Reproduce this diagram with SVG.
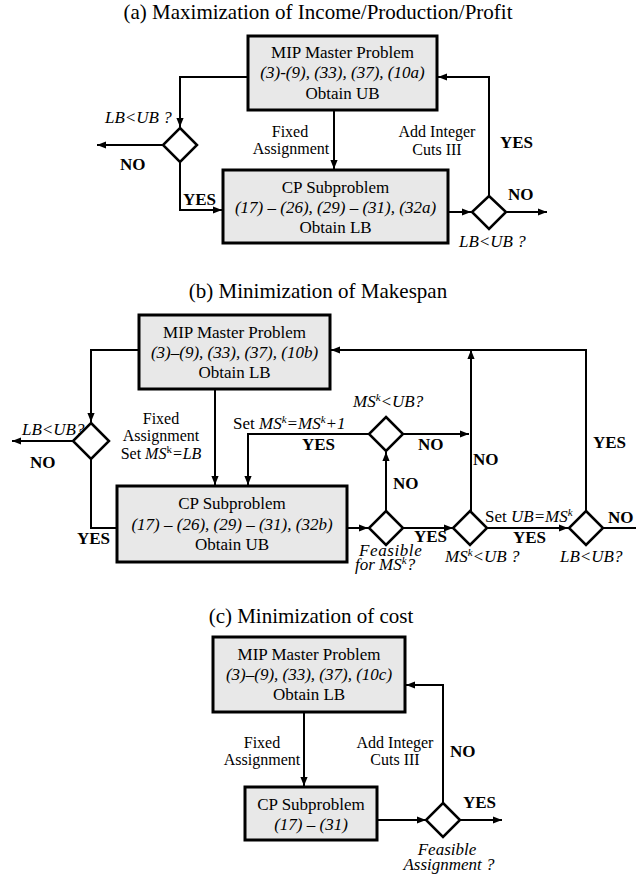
<svg xmlns="http://www.w3.org/2000/svg" width="636" height="875" viewBox="0 0 636 875">
  <style>
    text { font-family: "Liberation Serif", "Times New Roman", serif; fill: #000; }
    .title { font-size: 21px; text-anchor: middle; }
    .bt { font-size: 17px; text-anchor: middle; }
    .lb { font-size: 16px; text-anchor: middle; }
    .it { font-style: italic; font-size: 17px; }
    .yn { font-weight: bold; font-size: 17px; }
    .box { fill: #e8e8e8; stroke: #000; stroke-width: 3; }
    .dia { fill: #fff; stroke: #000; stroke-width: 2.5; }
    .ln { fill: none; stroke: #000; stroke-width: 2; }
    .arr { marker-end: url(#ah); }
    .sup { font-size: 11px; }
  </style>
  <defs>
    <marker id="ah" viewBox="0 0 10 10" refX="10" refY="5" markerWidth="9" markerHeight="9" orient="auto" markerUnits="userSpaceOnUse">
      <path d="M0,1 L10,5 L0,9 z" fill="#000"/>
    </marker>
  </defs>

  <!-- (a) Maximization -->
  <text class="title" x="318" y="19">(a) Maximization of Income/Production/Profit</text>

  <g id="connectors-a">
    <path class="ln arr" d="M248,77 H180 V127"/>
    <path class="ln arr" d="M162,145 H97"/>
    <path class="ln arr" d="M180,162 V210 H222"/>
    <path class="ln arr" d="M334,110 V169"/>
    <path class="ln arr" d="M448,212 H471"/>
    <path class="ln arr" d="M489,196 V77 H438"/>
    <path class="ln arr" d="M507,212 H547"/>
  </g>

  <g id="a-mip">
    <rect class="box" x="248" y="36" width="189" height="74"/>
    <text class="bt" x="342.5" y="58">MIP Master Problem</text>
    <text class="bt it" x="342.5" y="78" text-anchor="middle">(3)-(9), (33), (37), (10a)</text>
    <text class="bt" x="342.5" y="99">Obtain UB</text>
  </g>
  <g id="a-cp">
    <rect class="box" x="223" y="170" width="225" height="73"/>
    <text class="bt" x="335.5" y="193">CP Subproblem</text>
    <text class="bt it" x="335.5" y="213" text-anchor="middle">(17) – (26), (29) – (31), (32a)</text>
    <text class="bt" x="335.5" y="233">Obtain LB</text>
  </g>
  <g id="a-check1">
    <path class="dia" d="M180,128 L197,145 L180,162 L163,145 Z"/>
    <text class="it" x="105" y="123">LB&lt;UB ?</text>
    <text class="yn" x="120" y="170">NO</text>
    <text class="yn" x="183" y="205">YES</text>
  </g>
  <g id="a-check2">
    <path class="dia" d="M489,196 L506,212 L489,229 L472,212 Z"/>
    <text class="it" x="459" y="247">LB&lt;UB ?</text>
    <text class="yn" x="508" y="200">NO</text>
    <text class="yn" x="500" y="148">YES</text>
  </g>
  <g id="a-labels">
    <text class="lb" x="290" y="137">Fixed</text>
    <text class="lb" x="291" y="154">Assignment</text>
    <text class="lb" x="437" y="137">Add Integer</text>
    <text class="lb" x="437" y="155">Cuts III</text>
  </g>

  <!-- (b) Minimization of makespan -->
  <text class="title" x="318" y="298">(b) Minimization of Makespan</text>

  <g id="connectors-b">
    <path class="ln arr" d="M139,350 H91 V422"/>
    <path class="ln arr" d="M73,441 H12"/>
    <path class="ln" d="M91,459 V528 H116"/>
    <path class="ln arr" d="M215,389 V485"/>
    <path class="ln arr" d="M369,434 H248 V485"/>
    <path class="ln arr" d="M403,434 H469"/>
    <path class="ln arr" d="M386,511 V452"/>
    <path class="ln arr" d="M347,528 H368"/>
    <path class="ln arr" d="M403,528 H453"/>
    <path class="ln arr" d="M471,511 V350"/>
    <path class="ln arr" d="M487,528 H568"/>
    <path class="ln arr" d="M586,511 V350 H331"/>
    <path class="ln" d="M603,528 H636"/>
  </g>

  <g id="b-mip">
    <rect class="box" x="139" y="315" width="191" height="74"/>
    <text class="bt" x="234.5" y="338">MIP Master Problem</text>
    <text class="bt it" x="234.5" y="358" text-anchor="middle">(3)–(9), (33), (37), (10b)</text>
    <text class="bt" x="234.5" y="378">Obtain LB</text>
  </g>
  <g id="b-cp">
    <rect class="box" x="117" y="486" width="230" height="76" stroke-width="3.5"/>
    <text class="bt" x="232" y="509">CP Subproblem</text>
    <text class="bt it" x="232" y="530" text-anchor="middle">(17) – (26), (29) – (31), (32b)</text>
    <text class="bt" x="232" y="550">Obtain UB</text>
  </g>
  <g id="b-check-lb">
    <path class="dia" d="M91,423 L109,441 L91,459 L73,441 Z"/>
    <text class="it" x="22" y="435">LB&lt;UB?</text>
    <text class="yn" x="30" y="468">NO</text>
    <text class="yn" x="77" y="544">YES</text>
  </g>
  <g id="b-fixed">
    <text class="lb" x="161" y="424">Fixed</text>
    <text class="lb" x="161" y="441">Assignment</text>
    <text class="lb" x="161" y="459">Set <tspan font-style="italic">MS</tspan><tspan class="sup" dy="-6">k</tspan><tspan dy="6" font-style="italic">=LB</tspan></text>
  </g>
  <g id="b-check-ms1">
    <path class="dia" d="M386,417 L403,434 L386,451 L369,434 Z"/>
    <text class="it" x="353" y="407">MS<tspan class="sup" dy="-6">k</tspan><tspan dy="6">&lt;UB?</tspan></text>
    <text x="233" y="429" font-size="17">Set <tspan font-style="italic">MS</tspan><tspan class="sup" dy="-6" font-style="italic">k</tspan><tspan dy="6" font-style="italic">=MS</tspan><tspan class="sup" dy="-6" font-style="italic">k</tspan><tspan dy="6" font-style="italic">+1</tspan></text>
    <text class="yn" x="302" y="450">YES</text>
    <text class="yn" x="418" y="450">NO</text>
  </g>
  <g id="b-check-feas">
    <path class="dia" d="M386,511 L403,528 L386,545 L369,528 Z"/>
    <text class="yn" x="393" y="489">NO</text>
    <text class="yn" x="414" y="542">YES</text>
    <text class="it" x="359" y="556" font-size="15" letter-spacing="0.6">Feasible</text>
    <text class="it" x="355" y="570" font-size="15">for MS<tspan class="sup" dy="-6">k</tspan><tspan dy="6">?</tspan></text>
  </g>
  <g id="b-check-ms2">
    <path class="dia" d="M470,511 L487,528 L470,545 L453,528 Z"/>
    <text class="yn" x="473" y="465">NO</text>
    <text class="it" x="445" y="562">MS<tspan class="sup" dy="-6">k</tspan><tspan dy="6">&lt;UB ?</tspan></text>
    <text x="485" y="522" font-size="17">Set <tspan font-style="italic">UB=MS</tspan><tspan class="sup" dy="-6" font-style="italic">k</tspan></text>
    <text class="yn" x="513" y="543">YES</text>
  </g>
  <g id="b-check-lb2">
    <path class="dia" d="M586,511 L603,528 L586,545 L569,528 Z"/>
    <text class="it" x="560" y="562">LB&lt;UB?</text>
    <text class="yn" x="593" y="448">YES</text>
    <text class="yn" x="608" y="523">NO</text>
  </g>

  <!-- (c) Minimization of cost -->
  <text class="title" x="311" y="623">(c) Minimization of cost</text>

  <g id="connectors-c">
    <path class="ln arr" d="M304,712 V786"/>
    <path class="ln arr" d="M377,820 H426"/>
    <path class="ln arr" d="M443,803 V685 H406"/>
    <path class="ln arr" d="M460,820 H502"/>
  </g>

  <g id="c-mip">
    <rect class="box" x="213" y="637" width="192" height="75"/>
    <text class="bt" x="309" y="660">MIP Master Problem</text>
    <text class="bt it" x="309" y="680" text-anchor="middle">(3)–(9), (33), (37), (10c)</text>
    <text class="bt" x="309" y="700">Obtain LB</text>
  </g>
  <g id="c-cp">
    <rect class="box" x="245" y="787" width="132" height="53" stroke-width="3.5"/>
    <text class="bt" x="311" y="810">CP Subproblem</text>
    <text class="bt it" x="311" y="830" text-anchor="middle">(17) – (31)</text>
  </g>
  <g id="c-check">
    <path class="dia" d="M443,803 L460,820 L443,837 L426,820 Z"/>
    <text class="yn" x="450" y="757">NO</text>
    <text class="yn" x="463" y="808">YES</text>
    <text class="it" x="447" y="855" text-anchor="middle">Feasible</text>
    <text class="it" x="449" y="870" text-anchor="middle">Assignment ?</text>
  </g>
  <g id="c-labels">
    <text class="lb" x="262" y="748">Fixed</text>
    <text class="lb" x="262" y="765">Assignment</text>
    <text class="lb" x="395" y="748">Add Integer</text>
    <text class="lb" x="395" y="765">Cuts III</text>
  </g>
</svg>
